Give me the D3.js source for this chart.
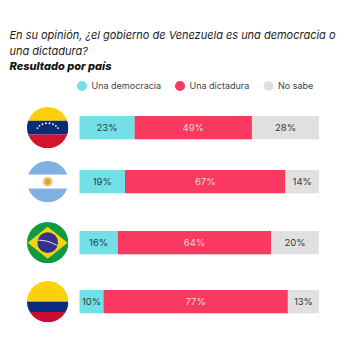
<!DOCTYPE html>
<html>
<head>
<meta charset="utf-8">
<script src="https://cdn.jsdelivr.net/npm/d3@7"></script>
<style>
  html, body { margin: 0; padding: 0; background: #fff; }
  svg { display: block; }
  text { font-family: "Inter", "Open Sans", sans-serif; }
</style>
</head>
<body>
<svg id="chart" width="350" height="350"></svg>
<script>
// ─── Data ─────────────────────────────────────────────────────────────────────
const countries  = ['Venezuela', 'Argentina', 'Brasil', 'Colombia'];
const democracia = [23, 19, 16, 10];
const dictadura  = [49, 67, 64, 77];
const noSabe     = [28, 14, 20, 13];

const seriesNames  = ['Una democracia', 'Una dictadura', 'No sabe'];
const seriesColors = ['#72e0e6', '#f9395f', '#e0e0e0'];
const labelColors  = ['#2b3a44', '#fbd5dc', '#33383c'];
const titleLines   = ['En su opinión, ¿el gobierno de Venezuela es una democracia o', 'una dictadura?'];
const subtitle     = 'Resultado por país';

const svg = d3.select('#chart');

// rows are not evenly spaced in the picture, hence ordinal and not band
const y = d3.scaleOrdinal().domain(countries).range([116, 170, 231, 290]);
const x = d3.scaleLinear().domain([0, 100]).range([79.5, 319]);
const barH = 23.3;

// ─── Title ────────────────────────────────────────────────────────────────────
svg.selectAll('.title').data(titleLines).enter()
  .append('text').attr('class', 'title')
  .attr('x', 9.5).attr('y', (d, i) => 39 + i * 15.5)
  .attr('font-size', 11).attr('font-style', 'italic').attr('fill', '#222')
  .attr('textLength', (d, i) => i === 0 ? 326 : null)
  .text(d => d);

svg.append('text')
  .attr('x', 9.5).attr('y', 70)
  .attr('font-size', 11).attr('font-style', 'italic').attr('font-weight', 800).attr('fill', '#111')
  .text(subtitle);

// ─── Legend ───────────────────────────────────────────────────────────────────
const legendX = d3.scaleOrdinal().domain(seriesNames).range([82, 180, 268.5]);
const legend = svg.selectAll('.lg').data(seriesNames).enter().append('g').attr('class', 'lg');
legend.append('circle')
  .attr('cx', d => legendX(d)).attr('cy', 86).attr('r', 5)
  .attr('fill', (d, i) => seriesColors[i]);
legend.append('text')
  .attr('x', d => legendX(d) + 9.5).attr('y', 88.5)
  .attr('font-size', 9).attr('fill', '#444')
  .text(d => d);

// ─── Bars ─────────────────────────────────────────────────────────────────────
const rows = countries.map((c, i) => ({ c, v: [democracia[i], dictadura[i], noSabe[i]] }));
rows.forEach(r => {
  let acc = 0;
  r.segs = r.v.map((v, k) => { const s = { c: r.c, k, v, x0: acc, x1: acc + v }; acc += v; return s; });
});

const row = svg.selectAll('.row').data(rows).enter().append('g').attr('class', 'row');
const seg = row.selectAll('.seg').data(d => d.segs).enter().append('g').attr('class', 'seg');
seg.append('rect')
  .attr('x', d => x(d.x0)).attr('y', d => y(d.c))
  .attr('width', d => x(d.x1) - x(d.x0)).attr('height', barH)
  .attr('fill', d => seriesColors[d.k]);
seg.append('text')
  .attr('x', d => (x(d.x0) + x(d.x1)) / 2).attr('y', d => y(d.c) + barH / 2 + 3.5)
  .attr('text-anchor', 'middle').attr('font-size', 9.5).attr('fill', d => labelColors[d.k])
  .text(d => d.v + '%');

// ─── Flags ────────────────────────────────────────────────────────────────────
const flagR = 20.7, flagX = 47.7;
const flagY = c => y(c) + barH / 2;
const defs = svg.append('defs');

function flag(name) {
  const cy = flagY(name);
  defs.append('clipPath').attr('id', 'clip-' + name)
    .append('circle').attr('cx', flagX).attr('cy', cy).attr('r', flagR);
  return svg.append('g').attr('clip-path', `url(#clip-${name})`);
}

function stripes(g, name, colors, shares) {
  const cy = flagY(name);
  const sy = d3.scaleLinear().domain([0, d3.sum(shares)]).range([cy - flagR, cy + flagR]);
  let acc = 0;
  colors.forEach((col, i) => {
    g.append('rect').attr('x', flagX - flagR).attr('width', flagR * 2)
      .attr('y', sy(acc)).attr('height', sy(acc + shares[i]) - sy(acc)).attr('fill', col);
    acc += shares[i];
  });
}

// Venezuela
const gVe = flag('Venezuela');
stripes(gVe, 'Venezuela', ['#fdcf0a', '#0a2a7a', '#d2142c'], [1, 1, 1]);
d3.range(8).forEach(i => {
  const a = Math.PI * (-0.85 + i * 0.7 / 7);
  gVe.append('circle')
    .attr('cx', flagX + 11.5 * Math.cos(a)).attr('cy', flagY('Venezuela') + 4.5 + 9 * Math.sin(a))
    .attr('r', 0.9).attr('fill', '#fff');
});

// Argentina
const gAr = flag('Argentina');
stripes(gAr, 'Argentina', ['#7fb2e2', '#ffffff', '#7fb2e2'], [1, 1, 1]);
gAr.append('circle').attr('cx', flagX).attr('cy', flagY('Argentina')).attr('r', 5).attr('fill', '#f0c97a');
gAr.append('circle').attr('cx', flagX).attr('cy', flagY('Argentina')).attr('r', 2.8).attr('fill', '#d9a23a');

// Brasil
const gBr = flag('Brasil');
stripes(gBr, 'Brasil', ['#109a3f'], [1]);
const by = flagY('Brasil');
gBr.append('polygon')
  .attr('points', [[flagX - 20, by], [flagX, by - 16], [flagX + 20, by], [flagX, by + 16]].join(' '))
  .attr('fill', '#f5d30d');
gBr.append('circle').attr('cx', flagX).attr('cy', by).attr('r', 10.3).attr('fill', '#35308a');
gBr.append('path')
  .attr('d', d3.line().curve(d3.curveBasis)([[flagX - 10, by - 2.5], [flagX, by - 2], [flagX + 10, by + 3]]))
  .attr('fill', 'none').attr('stroke', '#e8e8f4').attr('stroke-width', 1);

// Colombia
const gCo = flag('Colombia');
stripes(gCo, 'Colombia', ['#fdd20a', '#0a2a80', '#c8102e'], [2, 1, 1]);
</script>
</body>
</html>
